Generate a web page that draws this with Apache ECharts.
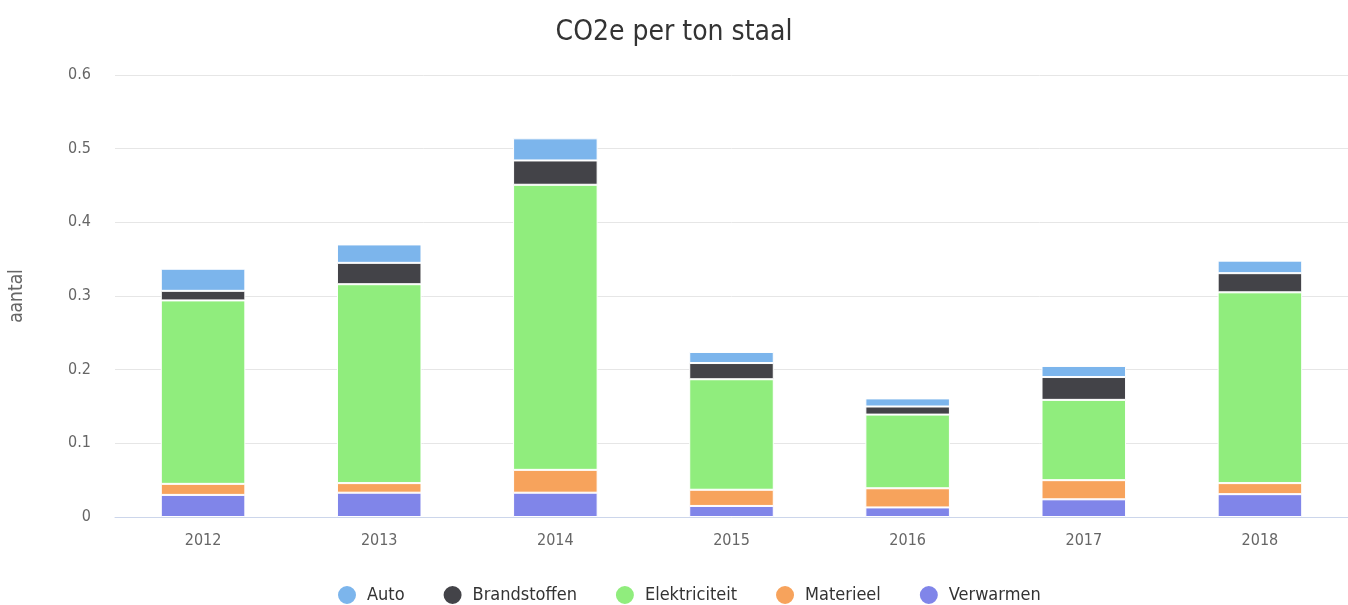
<!DOCTYPE html>
<html><head><meta charset="utf-8">
<script src="https://cdn.jsdelivr.net/npm/echarts@6/dist/echarts.min.js"></script>
<style>html,body{margin:0;padding:0;background:#fff}#c{width:1348px;height:605px}</style>
</head><body><div id="c"></div>
<script>
const years = ['2012','2013','2014','2015','2016','2017','2018'];
const verwarmen = [0.030, 0.033, 0.033, 0.015, 0.013, 0.024, 0.031];
const materieel = [0.015, 0.013, 0.031, 0.022, 0.026, 0.026, 0.015];
const elektriciteit = [0.249, 0.270, 0.387, 0.150, 0.100, 0.109, 0.259];
const brandstoffen = [0.013, 0.029, 0.033, 0.022, 0.011, 0.031, 0.026];
const auto = [0.030, 0.025, 0.030, 0.015, 0.011, 0.015, 0.017];
const yTicks = [0, 0.1, 0.2, 0.3, 0.4, 0.5, 0.6];

const FONT = '"DejaVu Sans Condensed", "DejaVu Sans", sans-serif';
const chart = echarts.init(document.getElementById('c'));
function s(name, data, color) {
  return { name, type: 'bar', stack: 'total', data, barWidth: '48%',
    itemStyle: { color, borderColor: '#fff', borderWidth: 1 } };
}
chart.setOption({
  animation: false,
  textStyle: { fontFamily: FONT },
  title: { text: 'CO2e per ton staal', left: 'center', top: 14,
    textStyle: { fontFamily: FONT, fontSize: 28, fontWeight: 'normal', color: '#333' } },
  legend: { top: 579, left: 331, itemGap: 37, icon: 'circle', itemWidth: 30, itemHeight: 20,
    symbolKeepAspect: true,
    data: ['Auto','Brandstoffen','Elektriciteit','Materieel','Verwarmen'],
    textStyle: { fontFamily: FONT, fontSize: 18, color: '#333' } },
  grid: { left: 115, right: 0, top: 75, bottom: 88 },
  xAxis: { type: 'category', data: years,
    axisLine: { lineStyle: { color: '#ccd6eb' } },
    axisTick: { length: 12, lineStyle: { color: '#ccd6eb' } },
    axisLabel: { color: '#666', fontSize: 16, margin: 16, fontFamily: FONT } },
  yAxis: { type: 'value', min: yTicks[0], max: yTicks[yTicks.length-1], interval: 0.1,
    name: 'aantal', nameLocation: 'middle', nameGap: 88,
    nameTextStyle: { color: '#666', fontSize: 19, fontFamily: FONT },
    axisLabel: { color: '#666', fontSize: 16, margin: 24, fontFamily: FONT },
    splitLine: { lineStyle: { color: '#e6e6e6', width: 1 } } },
  series: [
    s('Verwarmen', verwarmen, '#8085e9'),
    s('Materieel', materieel, '#f7a35c'),
    s('Elektriciteit', elektriciteit, '#90ed7d'),
    s('Brandstoffen', brandstoffen, '#434348'),
    s('Auto', auto, '#7cb5ec')
  ]
});
</script></body></html>
